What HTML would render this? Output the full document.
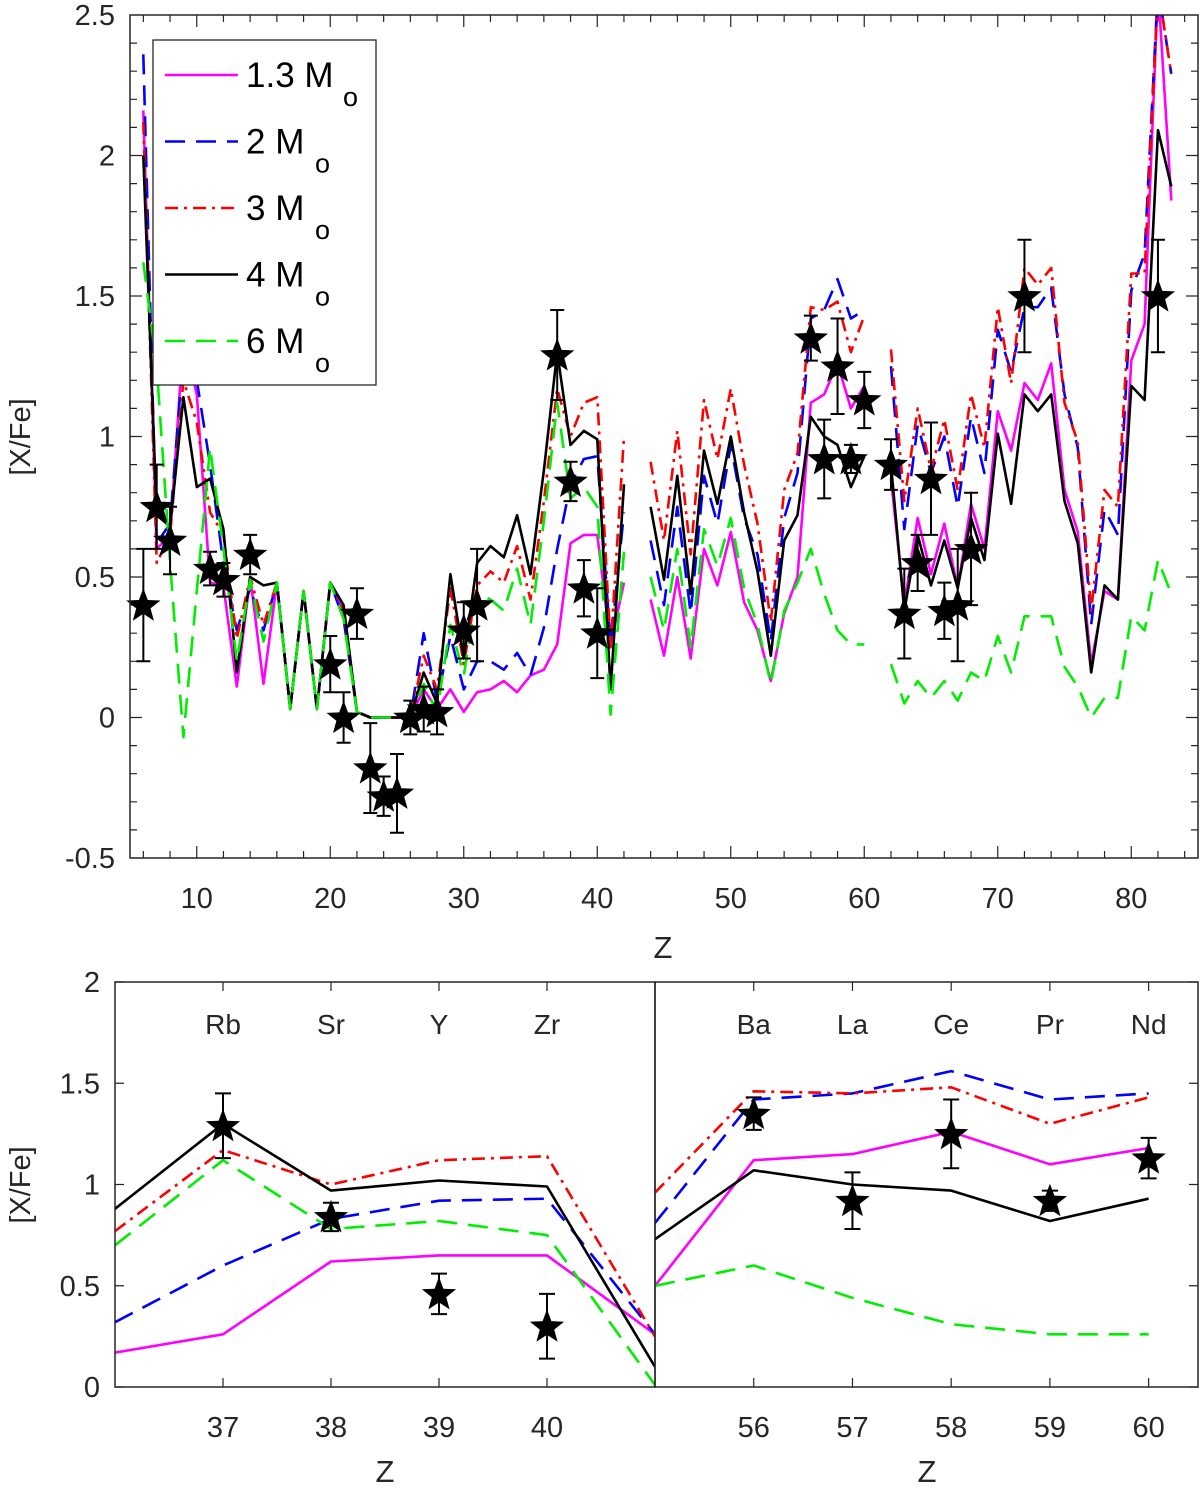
<!DOCTYPE html>
<html><head><meta charset="utf-8"><style>
body{margin:0;background:#fff}
svg text{font-family:"Liberation Sans",sans-serif;fill:#262626}
</style></head><body>
<svg id="fig" width="1200" height="1489" viewBox="0 0 1200 1489" xmlns="http://www.w3.org/2000/svg"></svg>
<script>
const zStart = 6;
const black4 = [2.0,0.72,0.68,1.14,0.82,0.85,0.67,0.16,0.5,0.47,0.48,0.03,0.45,0.03,0.48,0.40,0.02, 0,0,0,0, 0.16,0.05,0.51,0.21,0.55,0.61,0.57,0.72,0.51,0.88,1.30,0.97,1.02,0.99,0.10,0.83, null, 0.75,0.49,0.86,0.44,0.95,0.76,1.0,0.73,0.52,0.22,0.63,0.72,1.07,1.0,0.97,0.82,0.93, null, 0.9,0.38,0.65,0.47,0.63,0.46,0.71,0.56,1.01,0.76,1.15,1.09,1.15,0.77,0.62,0.16,0.47,0.42,1.18,1.13,2.09,1.89];
const mag13 = [2.16,0.6,0.65,1.35,1.15,0.48,0.47,0.11,0.5,0.12,0.48,0.03,0.45,0.03,0.48,0.38,0.02, 0,0,0,0, 0.1,0.03,0.1,0.02,0.09,0.1,0.13,0.09,0.15,0.17,0.26,0.62,0.65,0.65,0.26,0.48, null, 0.42,0.22,0.5,0.21,0.6,0.47,0.66,0.41,0.31,0.13,0.37,0.5,1.12,1.15,1.26,1.10,1.18, null, 0.85,0.4,0.71,0.51,0.69,0.46,0.76,0.6,1.09,0.95,1.19,1.13,1.26,0.81,0.66,0.19,0.45,0.42,1.27,1.4,2.6,1.84];
const blue2 = [2.36,0.62,0.69,1.3,1.2,0.9,0.55,0.31,0.46,0.31,0.48,0.03,0.45,0.03,0.48,0.35,0.02, 0,0,0,0, 0.3,0.06,0.29,0.1,0.2,0.2,0.17,0.23,0.15,0.32,0.6,0.83,0.92,0.93,0.26,0.73, null, 0.63,0.4,0.75,0.37,0.86,0.69,0.97,0.71,0.58,0.27,0.71,0.87,1.42,1.45,1.56,1.42,1.45, null, 1.25,0.67,1.04,0.87,1.0,0.75,1.07,0.87,1.38,1.23,1.46,1.46,1.53,1.15,0.96,0.33,0.74,0.65,1.52,1.65,2.6,2.29];
const red3 = [2.12,0.55,0.65,1.2,1.05,0.73,0.65,0.28,0.5,0.33,0.48,0.03,0.45,0.03,0.48,0.38,0.02, 0,0,0,0, 0.22,0.1,0.46,0.19,0.47,0.52,0.48,0.61,0.42,0.77,1.17,1.0,1.12,1.14,0.25,1.0, null, 0.91,0.63,1.02,0.58,1.13,0.92,1.17,0.9,0.69,0.34,0.81,0.94,1.46,1.45,1.48,1.30,1.43, null, 1.31,0.77,1.1,0.88,1.06,0.81,1.15,0.96,1.46,1.19,1.6,1.54,1.6,1.12,0.98,0.38,0.81,0.75,1.58,1.58,2.6,2.29];
const green6 = [1.62,1.25,0.55,-0.07,0.45,0.96,0.6,0.2,0.49,0.27,0.48,0.03,0.45,0.03,0.48,0.35,0.02, 0,0,0,0, 0.12,0.02,0.33,0.15,0.44,0.42,0.38,0.53,0.33,0.7,1.12,0.78,0.82,0.75,0.01,0.59, null, 0.5,0.31,0.6,0.25,0.67,0.54,0.71,0.46,0.33,0.12,0.38,0.48,0.6,0.44,0.31,0.26,0.26, null, 0.19,0.05,0.13,0.07,0.13,0.06,0.16,0.13,0.29,0.16,0.36,0.36,0.36,0.18,0.11,0.0,0.07,0.07,0.36,0.31,0.56,0.44];
const edge36 = {k:0.88,m:0.17,b:0.32,r:0.77,g:0.70};
const edge55 = {k:0.73,m:0.5,b:0.81,r:0.96,g:0.5};
const obsZ = [6,7,8,11,12,14,20,21,22,23,24,25,26,27,28,30,31,37,38,39,40,56,57,58,59,60,62,63,64,65,66,67,68,72,82];
const obsVal = [0.40,0.75,0.63,0.53,0.49,0.58,0.19,0.0,0.37,-0.18,-0.28,-0.27,0.0,0.03,0.02,0.31,0.40,1.29,0.84,0.46,0.30,1.35,0.92,1.25,0.92,1.13,0.90,0.37,0.55,0.85,0.38,0.40,0.60,1.50,1.50];
const obsErr = [0.2,0.15,0.12,0.06,0.06,0.07,0.1,0.09,0.09,0.16,0.07,0.14,0.06,0.08,0.08,0.1,0.2,0.16,0.07,0.1,0.16,0.08,0.14,0.17,0.05,0.1,0.09,0.16,0.1,0.2,0.1,0.2,0.2,0.2,0.2];
const xTicksTop = [10,20,30,40,50,60,70,80];
const yTicksTop = [-0.5,0,0.5,1,1.5,2,2.5];
const yTickLabTop = ["-0.5","0","0.5","1","1.5","2","2.5"];
const yTicksBot = [0,0.5,1,1.5,2];
const yTickLabBot = ["0","0.5","1","1.5","2"];
const elemL = ["Rb","Sr","Y","Zr"];
const elemR = ["Ba","La","Ce","Pr","Nd"];

const NS="http://www.w3.org/2000/svg";
const svg=document.getElementById('fig');
function mk(tag,attrs,parent){const e=document.createElementNS(NS,tag);for(const k in attrs)e.setAttribute(k,attrs[k]);(parent||svg).appendChild(e);return e;}

const seriesDefs=[
 {key:'m',arr:mag13,color:'#ff00ff',dash:'',name:'series-1p3-msun',label:'1.3 M'},
 {key:'b',arr:blue2,color:'#0000ff',dash:'20 11',name:'series-2-msun',label:'2 M'},
 {key:'r',arr:red3,color:'#ff0000',dash:'13 6 3 6',name:'series-3-msun',label:'3 M'},
 {key:'k',arr:black4,color:'#000000',dash:'',name:'series-4-msun',label:'4 M'},
 {key:'g',arr:green6,color:'#00ee00',dash:'20 11',name:'series-6-msun',label:'6 M'}
];

function star(g,cx,cy,R){
  let pts=[];for(let i=0;i<10;i++){const r=i%2?R*0.42:R;const a=-Math.PI/2+i*Math.PI/5;pts.push((cx+r*Math.cos(a)).toFixed(1)+','+(cy+r*Math.sin(a)).toFixed(1));}
  const p=mk('polygon',{points:pts.join(' '),fill:'#000'},g);
  
  
}

function panel(o){
  const {L,R,T,B,x0,x1,y0,y1,name,clipId}=o;
  const sx=z=>L+(z-x0)/(x1-x0)*(R-L), sy=v=>B-(v-y0)/(y1-y0)*(B-T);
  const g=mk('g',{});
  
  
  const cp=mk('clipPath',{id:clipId},g);mk('rect',{x:L,y:T,width:R-L,height:B-T},cp);
  return {g,sx,sy};
}

function drawLine(g,clip,pts,s,sx,sy){
  let d='';let pen=false;
  pts.forEach(p=>{if(p[1]===null){pen=false;return;}d+=(pen?'L':'M')+sx(p[0]).toFixed(1)+' '+sy(p[1]).toFixed(1);pen=true;});
  const a={d:d,fill:'none',stroke:s.color,'stroke-width':2.6,'stroke-linejoin':'round','clip-path':'url(#'+clip+')'};
  if(s.dash)a['stroke-dasharray']=s.dash;
  const p=mk('path',a,g);
  
  
}
function errBar(g,x,y1,y2,cap){
  const e=mk('path',{d:`M${x} ${y1}V${y2}M${x-cap} ${y1}H${x+cap}M${x-cap} ${y2}H${x+cap}`,stroke:'#000','stroke-width':2,fill:'none'},g);
  
  
}
function frame(g,L,R,T,B){
  const f=mk('rect',{x:L,y:T,width:R-L,height:B-T,fill:'none',stroke:'#262626','stroke-width':1.5},g);
  
  
}
function txt(g,x,y,s,size,anchor,name){
  const t=mk('text',{x:x,y:y,'font-size':size,'text-anchor':anchor||'middle'},g);t.textContent=s;
  
  
  return t;
}

(function(){
  const L=130,R=1198,T=15,B=858;
  const P=panel({L,R,T,B,x0:5,x1:85,y0:-0.5,y1:2.5,name:'top-panel',clipId:'clipTop'});
  const {g,sx,sy}=P;
  let d='';
  for(let z=6;z<=84;z+=2){const x=sx(z);const len=(z%10===0)?12:7;d+=`M${x} ${B}v-${len}M${x} ${T}v${len}`;}
  for(let v=-0.4;v<2.5;v+=0.1){const y=sy(v).toFixed(1);const maj=Math.abs(v*2-Math.round(v*2))<1e-6;const len=maj?12:7;d+=`M${L} ${y}h${len}M${R} ${y}h-${len}`;}
  mk('path',{d:d,stroke:'#262626','stroke-width':1.2,fill:'none'},g);
  seriesDefs.forEach(s=>{drawLine(g,'clipTop',s.arr.map((v,i)=>[zStart+i,v]),s,sx,sy);});
  obsZ.forEach((z,i)=>{const x=sx(z);errBar(g,x,sy(obsVal[i]+obsErr[i]),sy(obsVal[i]-obsErr[i]),7);});
  obsZ.forEach((z,i)=>{star(g,sx(z),sy(obsVal[i])+1,18);});
  frame(g,L,R,T,B);
  xTicksTop.forEach(z=>txt(g,sx(z),908,String(z),29,'middle','x-tick-label'));
  yTicksTop.forEach((v,i)=>txt(g,115,sy(v)+10,yTickLabTop[i],29,'end','y-tick-label'));
  txt(g,663,958,'Z',31,'middle','x-axis-title');
  const yt=txt(g,0,0,'[X/Fe]',29,'middle','y-axis-title');yt.setAttribute('transform','translate(30,437) rotate(-90)');
  const lg=mk('g',{},g);
  
  
  mk('rect',{x:153,y:40,width:223,height:345,fill:'#fff',stroke:'#262626','stroke-width':1.3},lg);
  seriesDefs.forEach((s,i)=>{
    const y=75+i*66.5;
    const e=mk('g',{},lg);
    
    
    const a={x1:165,y1:y,x2:238,y2:y,stroke:s.color,'stroke-width':2.6};if(s.dash)a['stroke-dasharray']=s.dash;
    mk('line',a,e);
    const t=mk('text',{x:246,y:y+12,'font-size':35,'text-anchor':'start'},e);t.textContent=s.label;t.style.fill='#000';
    const sub=mk('text',{x:(i===0?343:315),y:y+31,'font-size':27,'text-anchor':'start'},e);sub.textContent='o';sub.style.fill='#000';
  });
})();

function bottom(L,R,x0,x1,zFrom,zTo,edgeZ,edgeVals,elems,name,clip,showY,zTitleX){
  const T=982,B=1387;
  const P=panel({L,R,T,B,x0,x1,y0:0,y1:2,name,clipId:clip});
  const {g,sx,sy}=P;
  let d='';
  for(let z=Math.ceil(x0);z<=x1;z++){if(z<=x0||z>=x1)continue;const x=sx(z);d+=`M${x} ${B}v-9M${x} ${T}v9`;}
  if(showY){yTicksBot.forEach(v=>{const y=sy(v);d+=`M${L} ${y}h9`;});}
  else{yTicksBot.forEach(v=>{const y=sy(v);d+=`M${R} ${y}h-9`;});}
  mk('path',{d:d,stroke:'#262626','stroke-width':1.2,fill:'none'},g);
  seriesDefs.forEach(s=>{
    const pts=[];
    if(edgeZ<zFrom)pts.push([edgeZ,edgeVals[s.key]]);
    for(let z=zFrom;z<=zTo;z++)pts.push([z,s.arr[z-zStart]]);
    drawLine(g,clip,pts,s,sx,sy);
  });
  obsZ.forEach((z,i)=>{if(z>=Math.ceil(x0)&&z<=x1){errBar(g,sx(z),sy(obsVal[i]+obsErr[i]),sy(obsVal[i]-obsErr[i]),8);}});
  obsZ.forEach((z,i)=>{if(z>=Math.ceil(x0)&&z<=x1)star(g,sx(z),sy(obsVal[i])+1,18);});
  frame(g,L,R,T,B);
  const first=Math.floor(x0)+1;
  elems.forEach((el,i)=>txt(g,sx(first+i),1034,el,28,'middle','element-label'));
  for(let z=first;z<x1;z++)txt(g,sx(z),1437,String(z),29,'middle','x-tick-label');
  txt(g,zTitleX,1482,'Z',31,'middle','x-axis-title');
  if(showY){
    yTicksBot.forEach((v,i)=>txt(g,100,sy(v)+10,yTickLabBot[i],29,'end','y-tick-label'));
    const yt=txt(g,0,0,'[X/Fe]',29,'middle','y-axis-title');yt.setAttribute('transform','translate(30,1185) rotate(-90)');
  }
}
bottom(115,655,36,41,37,41,36,edge36,elemL,'bottom-left-panel','clipBL',true,385);
bottom(655,1198,55,60.5,56,60,55,edge55,elemR,'bottom-right-panel','clipBR',false,927);
</script>
</body></html>
